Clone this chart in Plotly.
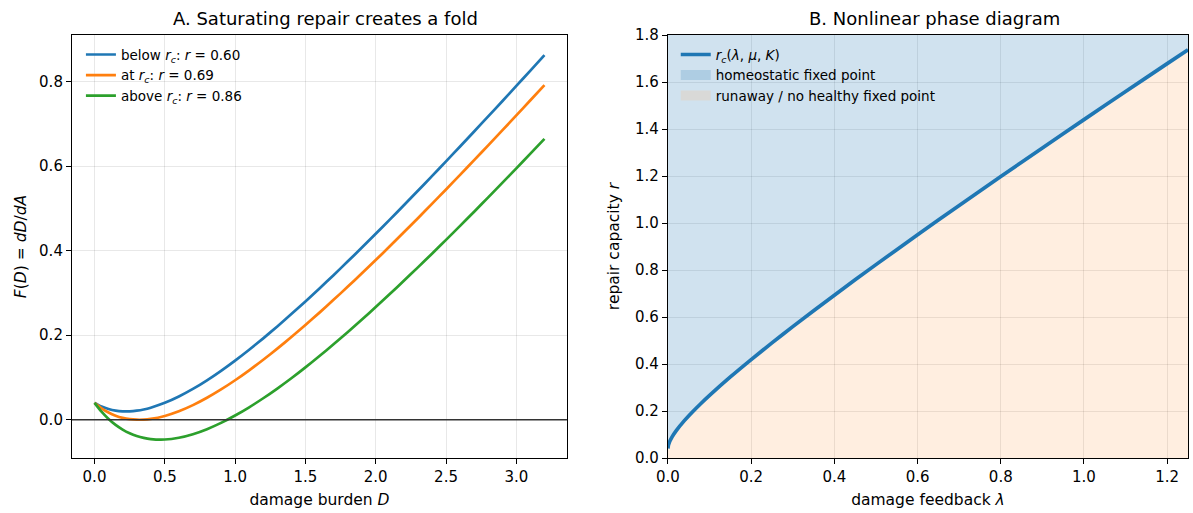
import plotly.graph_objects as go
from plotly.subplots import make_subplots

# ---- Panel A data: F(D) = dD/dA for three repair capacities ----
damage_D = [0.0, 0.05, 0.1, 0.15, 0.2, 0.25, 0.3, 0.35, 0.4, 0.5, 0.6, 0.7, 0.8, 0.9, 1.0,
            1.1, 1.2, 1.3, 1.4, 1.5, 1.6, 1.7, 1.8, 1.9, 2.0, 2.1, 2.2, 2.3, 2.4,
            2.5, 2.6, 2.7, 2.8, 2.9, 3.0, 3.1, 3.2]
F_below = [0.040, 0.0314, 0.0255, 0.0217, 0.020, 0.020, 0.0215, 0.0244, 0.0286, 0.040, 0.055,
           0.0729, 0.0933, 0.1158, 0.140, 0.1657, 0.1927, 0.2209, 0.250, 0.280, 0.3108,
           0.3422, 0.3743, 0.4069, 0.440, 0.4735, 0.5075, 0.5418, 0.5765, 0.6114,
           0.6467, 0.6822, 0.7179, 0.7538, 0.790, 0.8263, 0.8629]
F_at = [0.040, 0.0270, 0.0170, 0.0096, 0.0045, 0.0014, 0.0001, 0.0003, 0.0020, 0.0090, 0.0201,
        0.0346, 0.0520, 0.0717, 0.0935, 0.1170, 0.1420, 0.1683, 0.1958, 0.2242,
        0.2535, 0.2837, 0.3145, 0.3460, 0.3780, 0.4105, 0.4436, 0.4770, 0.5108,
        0.5450, 0.5795, 0.6143, 0.6494, 0.6847, 0.7203, 0.7560, 0.7920]
F_above = [0.040, 0.0190, 0.0018, -0.0122, -0.0233, -0.032, -0.0385, -0.0430, -0.0457, -0.0467,
           -0.0425, -0.0341, -0.0222, -0.0074, 0.0100, 0.0295, 0.0509, 0.0739,
           0.0983, 0.1240, 0.1508, 0.1785, 0.2071, 0.2366, 0.2667, 0.2974, 0.3288,
           0.3606, 0.3929, 0.4257, 0.4589, 0.4924, 0.5263, 0.5605, 0.5950, 0.6298,
           0.6648]
labels_A = ["below <i>r</i><sub><i>c</i></sub>: <i>r</i> = 0.60",
            "at <i>r</i><sub><i>c</i></sub>: <i>r</i> = 0.69",
            "above <i>r</i><sub><i>c</i></sub>: <i>r</i> = 0.86"]

# ---- Panel B data: critical repair capacity r_c(lambda) ----
lam = [0.0, 0.001, 0.0025, 0.005, 0.01, 0.02, 0.04, 0.06, 0.08, 0.1, 0.15, 0.2, 0.25, 0.3,
       0.4, 0.5, 0.6, 0.7, 0.8, 0.9, 1.0, 1.1, 1.2, 1.25]
r_c = [0.04, 0.05365, 0.0625, 0.07328, 0.09, 0.11657, 0.16, 0.19798, 0.23314, 0.26649,
       0.34492, 0.41889, 0.49, 0.55909, 0.69298, 0.82284, 0.94984, 1.07466,
       1.19777, 1.31947, 1.44, 1.55952, 1.67818, 1.73721]
r_max = 1.8

BLUE, ORANGE, GREEN = "#1f77b4", "#ff7f0e", "#2ca02c"
FONT = "DejaVu Sans"

fig = make_subplots(rows=1, cols=2, horizontal_spacing=0.09,
                    subplot_titles=("A. Saturating repair creates a fold",
                                    "B. Nonlinear phase diagram"))

for i, (ys, col, lab) in enumerate(zip([F_below, F_at, F_above], [BLUE, ORANGE, GREEN], labels_A)):
    fig.add_trace(go.Scatter(x=damage_D, y=ys, mode="lines", name=lab, legendgroup=f"a{i}",
                             line=dict(color=col, width=2.7, shape="spline", smoothing=0.6),
                             legend="legend"), row=1, col=1)

# Panel B fills
fig.add_trace(go.Scatter(x=lam, y=r_c, mode="lines", line=dict(width=0, color="rgba(0,0,0,0)"),
                         fill="tozeroy", fillcolor="rgba(255,127,14,0.13)",
                         showlegend=False, hoverinfo="skip"), row=1, col=2)
fig.add_trace(go.Scatter(x=lam, y=[r_max] * len(lam), mode="lines",
                         line=dict(width=0, color="rgba(0,0,0,0)"),
                         fill="tonexty", fillcolor="rgba(31,119,180,0.21)",
                         showlegend=False, hoverinfo="skip"), row=1, col=2)
fig.add_trace(go.Scatter(x=lam, y=r_c, mode="lines", legendgroup="b0",
                         name="<i>r</i><sub><i>c</i></sub>(<i>λ</i>, <i>μ</i>, <i>K</i>)",
                         line=dict(color=BLUE, width=3.7, shape="spline", smoothing=0.6),
                         legend="legend2"), row=1, col=2)
# legend-only patches
fig.add_trace(go.Scatter(x=[None], y=[None], mode="lines", name="homeostatic fixed point",
                         legendgroup="b1", line=dict(width=10, color="#aecde3"),
                         legend="legend2"), row=1, col=2)
fig.add_trace(go.Scatter(x=[None], y=[None], mode="lines", name="runaway / no healthy fixed point",
                         legendgroup="b2", line=dict(width=10, color="#d9d9d7"),
                         legend="legend2"), row=1, col=2)

axis_common = dict(showline=True, linecolor="black", linewidth=1.1, mirror=True,
                   ticks="outside", ticklen=5, tickwidth=1, tickcolor="black",
                   showgrid=True, gridcolor="rgba(0,0,0,0.09)", gridwidth=1,
                   zeroline=False, automargin=False,
                   tickfont=dict(family=FONT, size=15, color="black"),
                   title_font=dict(family=FONT, size=15.5, color="black"))

fig.update_xaxes(axis_common, row=1, col=1, range=[-0.16, 3.36], tickvals=[0, 0.5, 1, 1.5, 2, 2.5, 3],
                 tickformat=".1f", title_text="damage burden <i>D</i>", title_standoff=9)
fig.update_yaxes(axis_common, row=1, col=1, range=[-0.0905, 0.9105], tickvals=[0, 0.2, 0.4, 0.6, 0.8],
                 tickformat=".1f", title_text="<i>F</i>(<i>D</i>) = <i>dD</i>/<i>dA</i>", title_standoff=8)
fig.update_xaxes(axis_common, row=1, col=2, range=[0, 1.25], tickvals=[0, 0.2, 0.4, 0.6, 0.8, 1.0, 1.2],
                 tickformat=".1f", title_text="damage feedback <i>λ</i>", title_standoff=9)
fig.update_yaxes(axis_common, row=1, col=2, range=[0, r_max],
                 tickvals=[0, 0.2, 0.4, 0.6, 0.8, 1.0, 1.2, 1.4, 1.6, 1.8],
                 tickformat=".1f", title_text="repair capacity <i>r</i>", title_standoff=11)

fig.update_layout(
    width=1193, height=513,
    margin=dict(l=72, r=5, t=35, b=55),
    plot_bgcolor="white", paper_bgcolor="white",
    font=dict(family=FONT, size=15, color="black"),
    xaxis=dict(domain=[0, 0.4435]),
    xaxis2=dict(domain=[0.534, 1.0]),
    shapes=[dict(type="line", xref="x domain", yref="y", x0=0, x1=1, y0=0, y1=0,
                 line=dict(color="#333333", width=1.3))],
    legend=dict(x=0.008, y=0.99, xanchor="left", yanchor="top", bgcolor="rgba(0,0,0,0)",
                font=dict(family=FONT, size=13.5), itemwidth=30, tracegroupgap=5.5,
                traceorder="normal"),
    legend2=dict(x=0.541, y=0.99, xanchor="left", yanchor="top", bgcolor="rgba(0,0,0,0)",
                 font=dict(family=FONT, size=13.5), itemwidth=30, tracegroupgap=5.5,
                 traceorder="normal"),
)
for ann in fig.layout.annotations:
    ann.font = dict(family=FONT, size=18, color="black")
    ann.yshift = 4

fig.write_html("out.html", config={"displayModeBar": False},
               post_script="document.body.style.margin='0';document.body.style.padding='0';")
